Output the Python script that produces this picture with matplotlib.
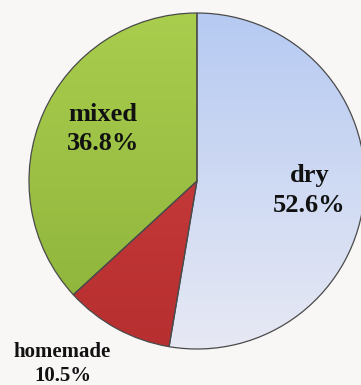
import numpy as np
import matplotlib.pyplot as plt
from matplotlib.colors import LinearSegmentedColormap

labels = ["dry", "homemade", "mixed"]
shares = [52.6, 10.5, 36.8]
# top / bottom shade for each slice
tops = ["#b6caf2", "#cf4040", "#a9cd4d"]
bottoms = ["#e7e9f4", "#b72f30", "#8cb23a"]

fig = plt.figure(figsize=(3.61, 3.85), dpi=100)
fig.patch.set_facecolor("#f9f6f6")
ax = fig.add_axes([0.0803, 0.0935, 0.9307, 0.8727])
ax.set_facecolor("none")

wedges, _ = ax.pie(shares, colors=bottoms, startangle=90, counterclock=False,
                   radius=1.0,
                   wedgeprops=dict(edgecolor="#4a4a4a", linewidth=0.9))
ax.set_aspect("equal")

# soft vertical shading inside each slice
grad = np.linspace(0, 1, 256).reshape(-1, 1)
for w, top, bot in zip(wedges, tops, bottoms):
    cmap = LinearSegmentedColormap.from_list("shade", [top, bot])
    im = ax.imshow(grad, cmap=cmap, extent=(-1, 1, -1, 1), origin="upper",
                   aspect="auto", zorder=w.get_zorder() + 0.1)
    im.set_clip_path(w)
    w.set_facecolor("none")
    w.set_zorder(w.get_zorder() + 0.2)
ax.set_xlim(-1, 1)
ax.set_ylim(-1, 1)

font = dict(family=["Liberation Serif", "DejaVu Serif"], fontweight="bold",
            ha="center", va="center", color="#111111")

# label spots (data units) for each slice
spots = {"dry": (0.67, -0.055), "mixed": (-0.56, 0.31), "homemade": (-0.80, -1.09)}
sizes = {"dry": 19, "mixed": 19, "homemade": 15}
gaps = {"dry": 1.38, "mixed": 1.38, "homemade": 1.31}
for lab, val in zip(labels, shares):
    x, y = spots[lab]
    ax.text(x, y, f"{lab}\n{val:.1f}%", fontsize=sizes[lab], linespacing=gaps[lab],
            clip_on=False, zorder=10, **font)

fig.savefig("out.png", dpi=100, facecolor=fig.get_facecolor())
